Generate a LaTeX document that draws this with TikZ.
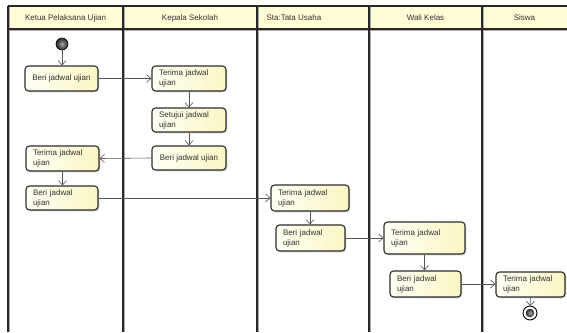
\documentclass[tikz,border=0pt]{standalone}
\usepackage{fontspec}
\setmainfont{Liberation Sans}
\usetikzlibrary{arrows.meta,shadows}
\definecolor{laneline}{RGB}{40,40,40}
\definecolor{laneshadow}{RGB}{170,170,170}
\definecolor{headfill}{RGB}{255,252,214}
\definecolor{boxlight}{RGB}{255,255,245}
\definecolor{boxdark}{RGB}{250,246,196}
\definecolor{boxedge}{RGB}{45,45,45}
\definecolor{txt}{RGB}{50,50,50}
\definecolor{flow}{RGB}{85,85,85}
\tikzset{
  act/.style={draw=boxedge, line width=1.1pt, rounded corners=3.5pt,
    left color=boxlight, right color=boxdark,
    drop shadow={shadow xshift=1.3pt, shadow yshift=-1.3pt, fill=black!35},
    inner xsep=7pt, inner ysep=2pt, align=left, text=txt,
    font=\fontsize{8}{10}\selectfont},
  oneline/.style={act, inner xsep=2pt, align=center},
  flowline/.style={draw=flow, line width=0.6pt,
    -{Straight Barb[length=4.5pt,width=8pt,line width=0.6pt]}},
  lanetitle/.style={text=txt, font=\fontsize{8}{10}\selectfont},
  lane/.style={draw=laneline, line width=1.2pt},
  laneshade/.style={draw=laneshadow, line width=1.4pt}
}
\begin{document}
\begin{tikzpicture}[x=1pt,y=-1pt]
\useasboundingbox (0,0) rectangle (567,332);
\fill[white] (0,0) rectangle (567,332);

% header band of the swimlanes
\fill[headfill] (8,6) rectangle (567,29);

% lane separators with their soft shadow
\foreach \lx in {8,123,257,369,482}{
  \draw[laneshade] (\lx+1.6,7) -- (\lx+1.6,332);
}
\draw[laneshade] (9,30.5) -- (567,30.5);
\foreach \lx in {8,123,257,369,482}{
  \draw[lane] (\lx,6) -- (\lx,332);
}
\draw[lane] (8,6) -- (567,6);
\draw[lane] (8,29) -- (567,29);

% lane titles
\node[lanetitle] (t1) at (65.5,18) {Ketua Pelaksana Ujian};
\node[lanetitle] (t2) at (190,18) {Kepala Sekolah};
\node[lanetitle, anchor=west] (t3) at (263,18) {Sta:Tata Usaha};
\node[lanetitle] (t4) at (425.5,18) {Wali Kelas};
\node[lanetitle] (t5) at (524.5,18) {Siswa};

% start and end states
\shade[inner color=gray!70, outer color=black!85, draw=black, line width=0.6pt]
  (62,44) circle (6);
\coordinate (start) at (62,50);
\draw[black, line width=0.9pt, fill=white] (530,313) circle (7);
\shade[inner color=gray!70, outer color=black!85] (530,313) circle (4.3);
\coordinate (stop) at (530,306);

% actions
\node[oneline, minimum width=73pt, minimum height=25pt] (a1) at (61.5,78.5) {Beri jadwal ujian};
\node[act, text width=60pt, minimum height=25pt] (k1) at (189,78.5) {Terima jadwal\\ujian};
\node[act, text width=60pt, minimum height=24pt] (k2) at (189,120) {Setujui jadwal\\ujian};
\node[oneline, minimum width=74pt, minimum height=24pt] (k3) at (189,158) {Beri jadwal ujian};
\node[act, text width=59pt, minimum height=25pt] (a2) at (62.5,158.5) {Terima jadwal\\ujian};
\node[act, text width=58pt, minimum height=24pt] (a3) at (62,198) {Beri jadwal\\ujian};
\node[act, text width=64pt, minimum height=26pt] (s1) at (310,198) {Terima jadwal\\ujian};
\node[act, text width=55pt, minimum height=26pt] (s2) at (310.5,238) {Beri jadwal\\ujian};
\node[act, text width=67pt, minimum height=32pt] (w1) at (424.5,238) {Terima jadwal\\ujian};
\node[act, text width=57pt, minimum height=26pt] (w2) at (425.5,284) {Beri jadwal\\ujian};
\node[act, text width=55pt, minimum height=25pt] (z1) at (530.5,284.5) {Terima jadwal\\ujian};

% control flow
\draw[flowline] (start) -- (start |- a1.north);
\draw[flowline] (a1.east) -- (k1.west);
\draw[flowline] (k1.south) -- (k2.north);
\draw[flowline] (k2.south) -- (k3.north);
\draw[flowline] (k3.west) -- (a2.east);
\draw[flowline] (a2.south) -- (a2.south |- a3.north);
\draw[flowline] (a3.east) -- (s1.west);
\draw[flowline] (s1.south) -- (s1.south |- s2.north);
\draw[flowline] (s2.east) -- (w1.west);
\draw[flowline] (w1.south) -- (w1.south |- w2.north);
\draw[flowline] (w2.east) -- (w2.east -| z1.west);
\draw[flowline] (z1.south) -- (stop);
\end{tikzpicture}
\end{document}
